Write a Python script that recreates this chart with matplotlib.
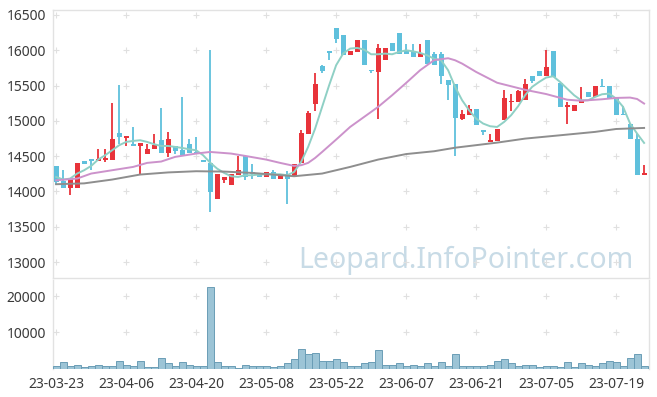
import numpy as np
import matplotlib.pyplot as plt

plt.rcParams['font.family'] = ['Noto Sans', 'DejaVu Sans']

# daily candles (KRW)
opens = [14362, 14145, 14051, 14051, 14428, 14457, 14428, 14442, 14442, 14825,
         14759, 14674, 14645, 14527, 14598, 14726, 14546, 14650, 14584, 14678,
         14560, 14442, 14409, 13890, 14159, 14098, 14235, 14499, 14277, 14263,
         14206, 14277, 14183, 14244, 14206, 14405, 14820, 15235, 15773, 15986,
         16316, 16212, 15939, 15976, 16151, 15726, 15693, 15868, 16104, 16250,
         15996, 15976, 15906, 16151, 15953, 15943, 15585, 15528, 15032, 15084,
         15169, 14877, 14702, 14716, 15018, 15264, 15268, 15302, 15632, 15703,
         15632, 15991, 15537, 15198, 15141, 15259, 15405, 15339, 15490, 15490,
         15339, 15094, 14952, 14749, 14235]
highs = [14362, 14300, 14173, 14400, 14428, 14457, 14608, 14608, 15259, 15504,
         14782, 14910, 14683, 14678, 14820, 15188, 14848, 14650, 15344, 14749,
         14773, 14442, 16000, 14244, 14202, 14244, 14499, 14499, 14395, 14263,
         14277, 14300, 14254, 14291, 14395, 14867, 15140, 15679, 15797, 15986,
         16316, 16212, 15996, 16151, 16151, 15726, 16094, 16038, 16104, 16250,
         16094, 16094, 16094, 16151, 15977, 15977, 15585, 15528, 15160, 15221,
         15169, 14877, 14820, 14886, 15434, 15377, 15443, 15599, 15632, 15703,
         15999, 15991, 15537, 15268, 15221, 15481, 15405, 15490, 15599, 15490,
         15339, 15207, 14976, 14820, 14372]
lows = [14088, 14051, 13956, 14051, 14390, 14300, 14428, 14420, 14442, 14678,
        14641, 14645, 14235, 14527, 14598, 14546, 14490, 14537, 14513, 14546,
        14537, 14419, 13711, 13890, 14121, 14098, 14235, 14169, 14183, 14206,
        14206, 14183, 14183, 13829, 14206, 14400, 14820, 15136, 15679, 15868,
        16109, 15939, 15939, 15976, 15797, 15680, 15023, 15868, 15991, 15953,
        15953, 15906, 15906, 15811, 15788, 15519, 15292, 14499, 15018, 15084,
        14938, 14806, 14702, 14716, 15018, 15136, 15268, 15302, 15537, 15641,
        15632, 15622, 15198, 14962, 15141, 15259, 15339, 15339, 15481, 15325,
        15089, 15084, 14749, 14240, 14235]
closes = [14136, 14051, 14173, 14400, 14390, 14428, 14457, 14471, 14740, 14773,
          14782, 14645, 14683, 14608, 14655, 14546, 14740, 14575, 14513, 14546,
          14537, 14419, 13994, 14244, 14202, 14244, 14301, 14206, 14244, 14206,
          14277, 14183, 14254, 14173, 14395, 14825, 15113, 15519, 15707, 15962,
          16165, 15939, 15996, 16151, 15797, 15703, 16038, 16038, 15991, 15953,
          15953, 15906, 15962, 15811, 15788, 15632, 15504, 15042, 15094, 15169,
          14938, 14844, 14726, 14886, 15330, 15283, 15419, 15528, 15561, 15641,
          15764, 15622, 15198, 15221, 15221, 15283, 15339, 15490, 15481, 15325,
          15089, 15084, 14749, 14240, 14258]
volumes = [560, 1670, 830, 1110, 280, 560, 1110, 560, 830, 2220,
           1110, 830, 2220, 280, 280, 2780, 1390, 830, 1670, 1110,
           560, 830, 22500, 1670, 830, 560, 100, 1110, 830, 830,
           560, 280, 830, 1390, 2500, 5280, 3890, 4170, 2220, 2220,
           2500, 1670, 830, 560, 1390, 1670, 5000, 1110, 1110, 1390,
           830, 1110, 830, 1390, 830, 1670, 830, 3890, 560, 830,
           830, 560, 1110, 2220, 2500, 1390, 830, 1110, 1110, 280,
           560, 830, 280, 1670, 280, 1390, 1110, 560, 1390, 2220,
           1940, 560, 2780, 3890, 830]

# moving averages (5, 20, 60 day)
ma5 = [14206, 14169, 14183, 14254, 14301, 14362, 14452, 14513, 14584, 14655,
       14702, 14716, 14726, 14702, 14669, 14645, 14645, 14631, 14617, 14598,
       14584, 14513, 14409, 14324, 14263, 14216, 14206, 14230, 14230, 14240,
       14244, 14244, 14244, 14230, 14277, 14419, 14631, 14891, 15198, 15504,
       15788, 15953, 16024, 16033, 16009, 15943, 15943, 15953, 15943, 15976,
       15999, 15985, 15962, 15929, 15880, 15858, 15717, 15481, 15292, 15150,
       15032, 14962, 14924, 14914, 14985, 15080, 15207, 15363, 15481, 15551,
       15613, 15632, 15551, 15457, 15363, 15292, 15292, 15339, 15377, 15386,
       15316, 15198, 14962, 14820, 14688]
ma20_x = [0, 3, 5, 8, 11, 13, 15, 17, 20, 22, 25, 27, 30, 32, 34, 35, 36, 37, 38,
          40, 42, 44, 46, 48, 50, 52, 54, 56, 57, 58, 60, 63, 67, 70, 73, 75, 78,
          80, 82, 83, 84]
ma20 = [14159, 14183, 14254, 14301, 14348, 14405, 14424, 14490, 14537, 14560,
        14537, 14504, 14452, 14405, 14362, 14372, 14405, 14475, 14560, 14735,
        14914, 15056, 15198, 15363, 15537, 15717, 15860, 15887, 15858, 15811,
        15693, 15540, 15440, 15380, 15300, 15285, 15306, 15325, 15330, 15310,
        15245]
ma60_x = [0, 4, 8, 12, 16, 20, 24, 28, 34, 38, 42, 46, 50, 54, 57, 63, 67, 72,
          77, 80, 84]
ma60 = [14103, 14115, 14169, 14240, 14270, 14287, 14282, 14263, 14216, 14254,
        14348, 14452, 14530, 14570, 14620, 14692, 14749, 14796, 14844, 14885,
        14900]

tick_pos = [0, 10, 20, 30, 40, 50, 60, 70, 80]
tick_labels = ['23-03-23', '23-04-06', '23-04-20', '23-05-08', '23-05-22',
               '23-06-07', '23-06-21', '23-07-05', '23-07-19']
price_ticks = [13000, 13500, 14000, 14500, 15000, 15500, 16000, 16500]
vol_ticks = [10000, 20000]

UP = '#e8333a'
DOWN = '#5fc0dc'
FRAME = '#e2e2e2'

fig = plt.figure(figsize=(6.57, 3.97), dpi=100)
ax = fig.add_axes([53 / 657, 1 - 278 / 397, 596 / 657, 268 / 397])
axv = fig.add_axes([53 / 657, 1 - 368.5 / 397, 596 / 657, 89 / 397], sharex=ax)

x = np.arange(len(closes))
o = np.array(opens)
c = np.array(closes)
up = c >= o
colors = np.where(up, UP, DOWN)
bottoms = np.minimum(o, c)
heights = np.maximum(np.abs(c - o), 8)

ax.vlines(x, lows, highs, colors=colors, linewidth=1.3, zorder=2)
ax.bar(x, heights, bottom=bottoms, width=0.72, color=colors, zorder=3)

ax.plot(x, ma5, color='#8fd0c5', lw=1.4, zorder=4)
ax.plot(ma20_x, ma20, color='#cc92cb', lw=1.4, zorder=4)
ax.plot(ma60_x, ma60, color='#8e8e8e', lw=1.4, zorder=4)

axv.bar(x, volumes, width=1.0, color='#9cc4d6', edgecolor='#6a9db6',
        linewidth=0.7, zorder=3)

ax.set_xlim(-0.45, 84.7)
ax.set_ylim(12775, 16570)
axv.set_ylim(0, 24700)

ax.set_yticks(price_ticks)
axv.set_yticks(vol_ticks)
axv.set_xticks(tick_pos)
axv.set_xticklabels(tick_labels)
ax.tick_params(labelbottom=False)

for a in (ax, axv):
    a.tick_params(length=0, labelsize=10, labelcolor='#3a3a3a', pad=5)
    for s in a.spines.values():
        s.set_color(FRAME)
        s.set_linewidth(1.0)
    a.set_facecolor('white')
axv.spines['bottom'].set_visible(False)
axv.spines['top'].set_visible(False)
axv.tick_params(axis='x', pad=6)

# '+' grid markers
gx, gy = np.meshgrid(tick_pos, price_ticks)
ax.scatter(gx.ravel(), gy.ravel(), marker='+', s=22, color='#e0e0e0',
           linewidths=0.8, zorder=1)
gx, gy = np.meshgrid(tick_pos, vol_ticks)
axv.scatter(gx.ravel(), gy.ravel(), marker='+', s=22, color='#e0e0e0',
            linewidths=0.8, zorder=1)

ax.text(0.411, 0.037, 'Leopard.InfoPointer.com', transform=ax.transAxes,
        ha='left', va='baseline', fontsize=20.5, color='#c8dbe6', zorder=0)

fig.savefig('out.png', dpi=100)
